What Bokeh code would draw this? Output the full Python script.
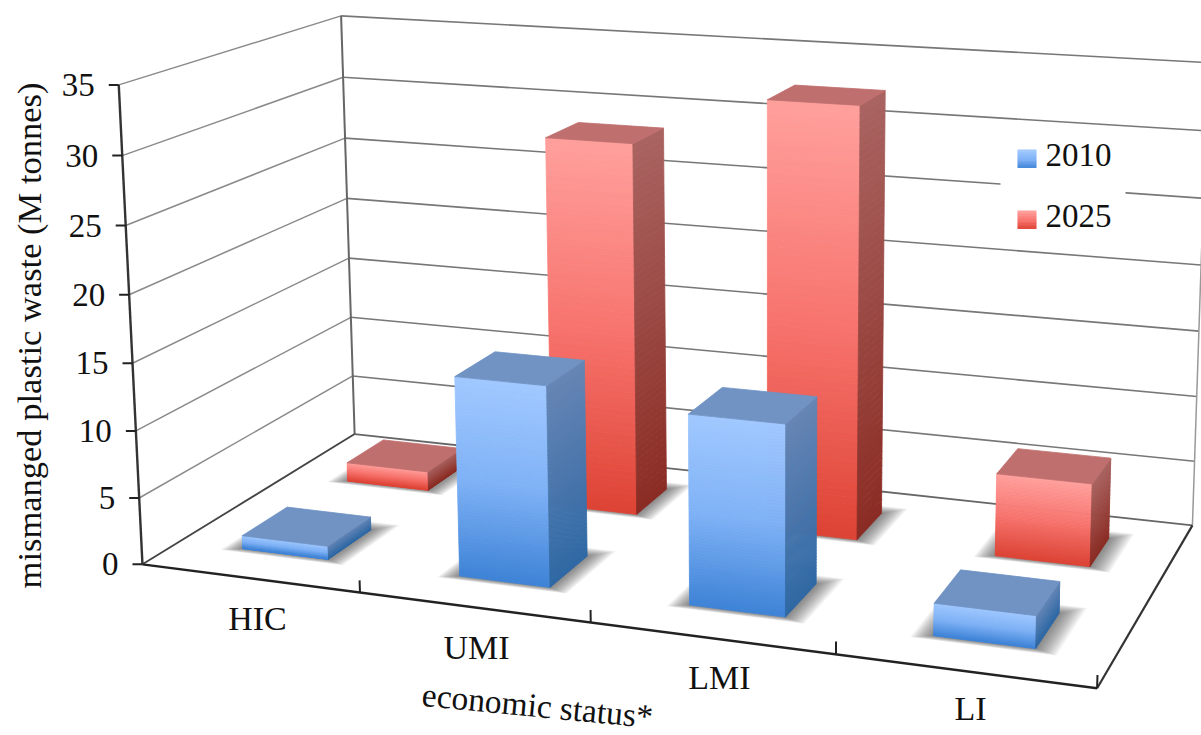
import numpy as np
from bokeh.plotting import figure
from bokeh.models import Range1d
from bokeh.core.properties import value
from bokeh.embed import file_html
from bokeh.resources import INLINE

# Chart content
categories = ["HIC", "UMI", "LMI", "LI"]
values_2010 = [1.0, 14.7, 13.7, 2.3]
values_2025 = [1.5, 28.6, 32.5, 6.2]
y_ticks = [0, 5, 10, 15, 20, 25, 30, 35]
series_names = ["2010", "2025"]

FONT = value("Liberation Serif")

# Camera: pairs of (category position, depth, value) and the page position they project to
world_anchors = [(0, 0, 0), (0, 0, 35), (0, 1, 0), (0, 1, 35),
                 (1, 0, 0), (2, 0, 0), (3, 0, 0), (4, 0, 0),
                 (4, 1, 0), (4, 1, 35)]
page_anchors = [(143, 563), (117, 85), (353, 434), (342, 15),
                (359, 592), (591, 622), (835, 655), (1097, 687),
                (1192, 525), (1207, 62)]


def solve_camera(world, page):
    rows = []
    for (x, z, y), (u, v) in zip(world, page):
        w = [x, z, y, 1.0]
        rows.append(w + [0, 0, 0, 0] + [-u * c for c in w])
        rows.append([0, 0, 0, 0] + w + [-v * c for c in w])
    return np.linalg.svd(np.array(rows))[2][-1].reshape(3, 4)


CAM = solve_camera(world_anchors, page_anchors)


def project(x, z, y):
    h = CAM @ np.array([x, z, y, 1.0])
    return h[0] / h[2], h[1] / h[2]


def mix(c0, c1, t):
    a = [int(c0[i:i + 2], 16) for i in (1, 3, 5)]
    b = [int(c1[i:i + 2], 16) for i in (1, 3, 5)]
    return "#%02x%02x%02x" % tuple(round(p + (q - p) * t) for p, q in zip(a, b))


p = figure(width=1201, height=735, output_backend="svg", toolbar_location=None,
           x_range=Range1d(0, 1201), y_range=Range1d(735, 0),
           min_border=0, outline_line_color=None, background_fill_color="white",
           border_fill_color="white")
p.axis.visible = False
p.grid.visible = False


def seg(a, b, color, width):
    pa, pb = project(*a), project(*b)
    p.line([pa[0], pb[0]], [pa[1], pb[1]], line_color=color, line_width=width)


# Walls
for v in y_ticks[1:]:
    seg((0, 0, v), (0, 1, v), "#8a8a8a", 1.5)
    seg((0, 1, v), (4, 1, v), "#777777", 1.6)
seg((0, 1, 0), (0, 1, 35), "#666666", 2)
seg((4, 1, 0), (4, 1, 35), "#999999", 1.5)
seg((0, 1, 0), (4, 1, 0), "#666666", 1.8)

# Clear area behind the legend
p.quad(left=[1000], right=[1125], top=[135], bottom=[232], fill_color="white", line_color=None)

# Floor edges
seg((0, 0, 0), (0, 1, 0), "#444444", 1.8)
seg((4, 0, 0), (4, 1, 0), "#333333", 2.2)
seg((0, 0, 0), (4, 0, 0), "#222222", 2.4)
seg((0, 0, 0), (0, 0, 35), "#333333", 2.4)

# Ticks and their labels
for v in y_ticks:
    sx, sy = project(0, 0, v)
    p.line([sx - 10, sx], [sy, sy], line_color="#222222", line_width=2)
    p.text([sx - 24], [sy], text=[str(v)], text_font=FONT, text_font_size="33px",
           text_align="right", text_baseline="middle", text_color="#111111")
for k in range(1, 5):
    seg((k, 0, 0), (k, 0, 0.9), "#222222", 2)

BAR_X = (0.297, 0.697)
ROWS = {"2025": (0.66, 0.85), "2010": (0.16, 0.365)}
PALETTE = {
    "2010": dict(front=("#a0c8ff", "#7fb2f6", "#3d82d6"), side=("#6586b6", "#2e68a4"), top="#7093c4"),
    "2025": dict(front=("#ff9f9c", "#f7736d", "#dd4233"), side=("#a96360", "#8a2b23"), top="#bf6f6d"),
}
STRIPS = 60


def front_colour(pal, t):
    c = pal["front"]
    return mix(c[0], c[1], t / 0.5) if t < 0.5 else mix(c[1], c[2], (t - 0.5) / 0.5)


def faces(corner_sets, colors):
    xs, ys = [], []
    for corners in corner_sets:
        pts = [project(*c) for c in corners]
        xs.append([q[0] for q in pts])
        ys.append([q[1] for q in pts])
    p.patches(xs, ys, fill_color=colors, line_color=colors, line_width=0.8)


def draw_shadow(x0, x1, z0, z1):
    # Stacked translucent footprints fade out from the base of the bar
    layers = 14
    for i in range(layers):
        m = 0.09 * (1 - i / layers)
        mz = 0.05 * (1 - i / layers)
        pts = [project(x0 - m * 0.9, z0 - mz * 0.45, 0), project(x1 + m, z0 - mz * 0.45, 0),
               project(x1 + m, z1 + mz, 0), project(x0 - m * 0.9, z1 + mz, 0)]
        p.patch([q[0] for q in pts], [q[1] for q in pts], fill_color="#383838", fill_alpha=0.055, line_color=None)


def draw_bar(k, val, name):
    pal = PALETTE[name]
    x0, x1 = k + BAR_X[0], k + BAR_X[1]
    z0, z1 = ROWS[name]
    draw_shadow(x0, x1, z0, z1)
    sets, cols = [], []
    for i in range(STRIPS):
        ta, tb = i / STRIPS, (i + 1) / STRIPS
        ya, yb = val * (1 - ta), val * (1 - tb)
        sets.append([(x0, z0, ya), (x1, z0, ya), (x1, z0, yb), (x0, z0, yb)])
        cols.append(front_colour(pal, ta))
        sets.append([(x1, z0, ya), (x1, z1, ya), (x1, z1, yb), (x1, z0, yb)])
        cols.append(mix(*pal["side"], ta))
    sets.append([(x0, z0, val), (x1, z0, val), (x1, z1, val), (x0, z1, val)])
    cols.append(pal["top"])
    faces(sets, cols)


# Back row first so the front row overlaps it
for k in range(len(categories)):
    draw_bar(k, values_2025[k], "2025")
for k in range(len(categories)):
    draw_bar(k, values_2010[k], "2010")

# Legend
for name, yc in zip(series_names, (158, 219)):
    pal = PALETTE[name]
    for i in range(10):
        c = front_colour(pal, i / 10)
        p.quad(left=[1017], right=[1036], top=[yc - 9 + i * 1.8], bottom=[yc - 9 + (i + 1) * 1.8 + 0.4],
               fill_color=c, line_color=None)
    p.text([1045], [yc - 4], text=[name], text_font=FONT, text_font_size="33px",
           text_baseline="middle", text_color="#111111")

# Category labels follow the perspective of the front edge
label_pos = [(257, 618), (476, 647), (719, 677), (970, 708)]
for name, (lx, ly) in zip(categories, label_pos):
    p.text([lx], [ly], text=[name], text_font=FONT, text_font_size="34px",
           text_align="center", text_baseline="middle", text_color="#111111")

p.text([28], [335], text=["mismanged plastic waste (M tonnes)"], text_font=FONT, text_font_size="34.5px",
       angle=np.pi / 2, text_align="center", text_baseline="middle", text_color="#111111")
p.text([537], [705], text=["economic status*"], text_font=FONT, text_font_size="33.5px",
       angle=-0.096, text_align="center", text_baseline="middle", text_color="#111111")

open("out.html", "w").write(file_html(p, INLINE))
